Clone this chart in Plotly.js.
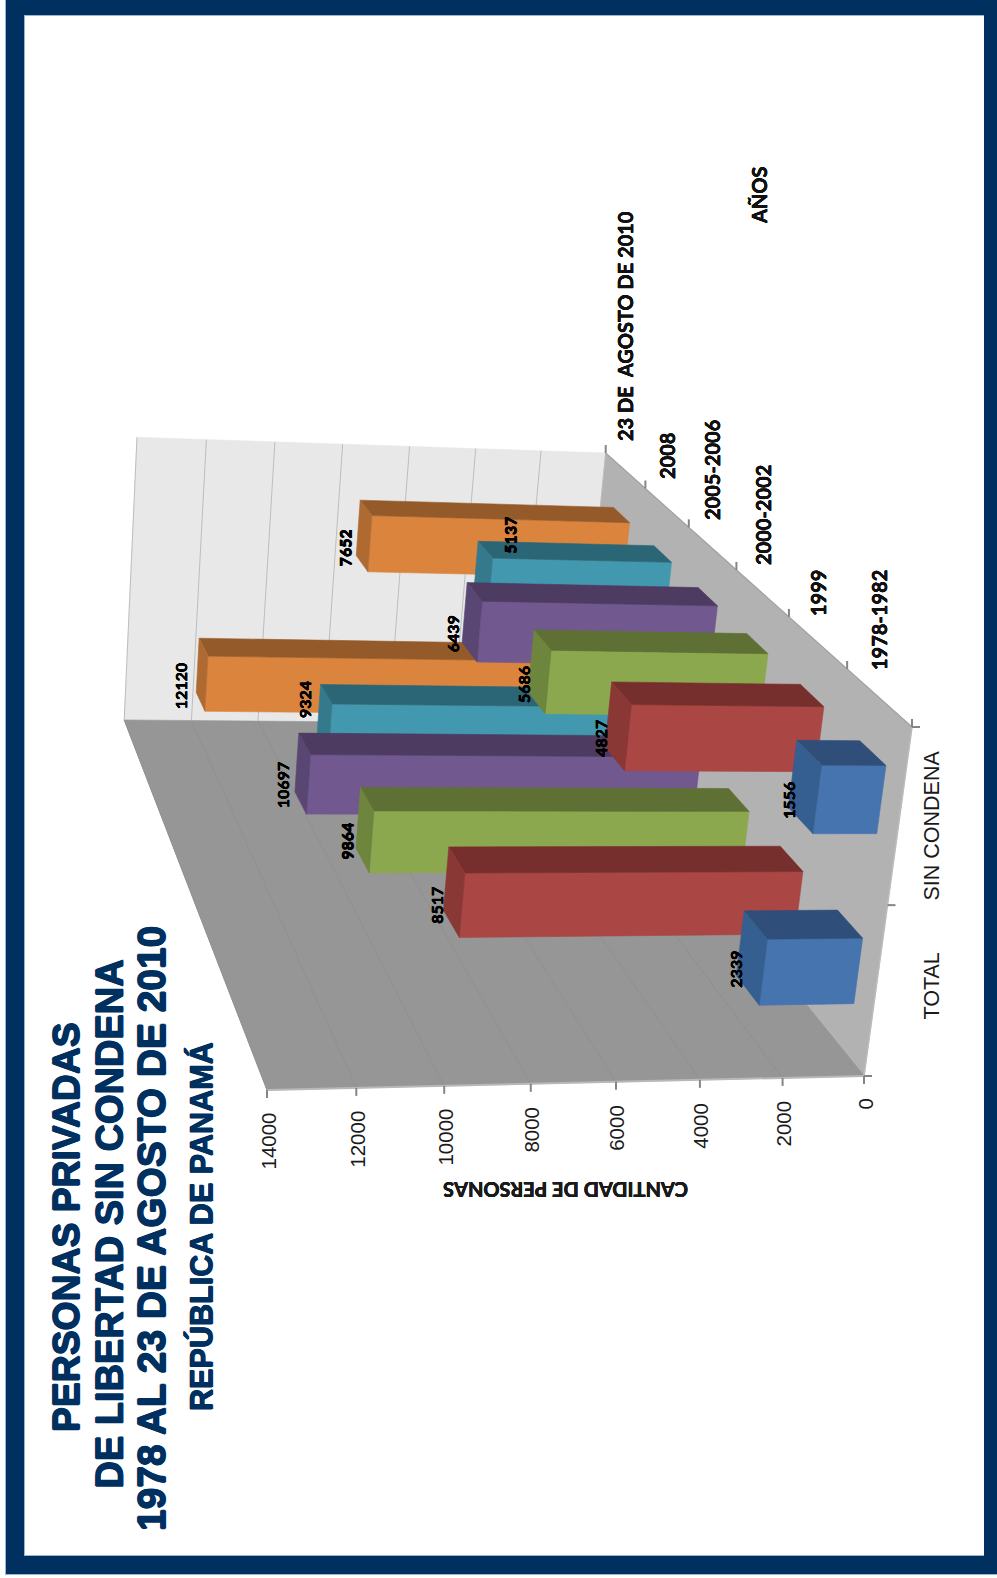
<!DOCTYPE html>
<html>
<head>
<meta charset="utf-8">
<script src="https://cdn.plot.ly/plotly-3.0.1.min.js"></script>
<style>html,body{margin:0;padding:0;background:#fff}#chart{width:997px;height:1578px}</style>
</head>
<body>
<div id="chart"></div>
<script>
// Data: people held without conviction, by period and by group
const periods = ['1978-1982', '1999', '2000-2002', '2005-2006', '2008', '23 DE  AGOSTO DE 2010'];
const groups = ['TOTAL', 'SIN CONDENA'];
const totalValues = [2339, 8517, 9864, 10697, 9324, 12120];
const sinCondenaValues = [1556, 4827, 5686, 6439, 5137, 7652];
const valueTicks = [0, 2000, 4000, 6000, 8000, 10000, 12000, 14000];
const valueMax = 14000;

// Face colours per period: front, side, cap
const faceColors = [
  ['#4674AE', '#2F4F7A', '#365F91'],
  ['#AA4643', '#772F2D', '#893836'],
  ['#8CA84F', '#5F7035', '#6E853D'],
  ['#71588F', '#4D3B61', '#5A4672'],
  ['#4198AF', '#2B6677', '#357A8C'],
  ['#DB843D', '#955A2A', '#AF6A31']
];

// Perspective camera of the box: u = group axis, v = period axis, w = value / max.
// Built from the pixel positions of the box corners on the rotated page.
const cornerA = [864, 1076], cornerB = [912, 727], cornerC = [605.7, 453], cornerD = [579, 724], cornerTop = [267, 1090];
const scaleTop = 0.9475;
function buildCamera() {
  const c1 = [cornerB[0] - cornerC[0], cornerD[0] - cornerC[0], cornerA[0] - cornerC[0]];
  const c2 = [cornerB[1] - cornerC[1], cornerD[1] - cornerC[1], cornerA[1] - cornerC[1]];
  const det = c1[0] * c2[1] - c1[1] * c2[0];
  const a = (c1[2] * c2[1] - c1[1] * c2[2]) / det;
  const b = (c1[0] * c2[2] - c1[2] * c2[0]) / det;
  const A = [cornerA[0], cornerA[1], 1], B = [cornerB[0], cornerB[1], 1], D = [cornerD[0], cornerD[1], 1], T = [cornerTop[0], cornerTop[1], 1];
  return {
    pu: B.map((p, i) => a * p - A[i]),
    pv: D.map((p, i) => b * p - A[i]),
    pw: T.map((p, i) => scaleTop * p - A[i]),
    p0: A
  };
}
const cam = buildCamera();
function project(u, v, value) {
  const w = value / valueMax;
  const h = [0, 1, 2].map(i => cam.p0[i] + u * cam.pu[i] + v * cam.pv[i] + w * cam.pw[i]);
  return [h[0] / h[2], h[1] / h[2]];
}

const traces = [];
function face(points, color, lineWidth) {
  const xy = points.map(p => project(p[0], p[1], p[2]));
  xy.push(xy[0]);
  traces.push({
    type: 'scatter', mode: 'lines', fill: 'toself', fillcolor: color,
    x: xy.map(p => p[0]), y: xy.map(p => p[1]),
    line: {color: color, width: lineWidth === undefined ? 0.6 : lineWidth},
    hoverinfo: 'skip', showlegend: false
  });
}
function segment(p, q, color, width) {
  const a = project(p[0], p[1], p[2]), b = project(q[0], q[1], q[2]);
  traces.push({
    type: 'scatter', mode: 'lines', x: [a[0], b[0]], y: [a[1], b[1]],
    line: {color: color, width: width}, hoverinfo: 'skip', showlegend: false
  });
}

// Box: back wall, side wall, floor
face([[0, 1, 0], [1, 1, 0], [1, 1, valueMax], [0, 1, valueMax]], '#E8E8E8');
face([[0, 0, 0], [0, 1, 0], [0, 1, valueMax], [0, 0, valueMax]], '#969696');
face([[0, 0, 0], [1, 0, 0], [1, 1, 0], [0, 1, 0]], '#B2B2B2');

// Gridlines on both walls
valueTicks.forEach(t => {
  segment([0, 1, t], [1, 1, t], '#BDBDBD', 1);
  segment([0, 0, t], [0, 1, t], '#909090', 1);
});

// Axis edges of the box
segment([0, 0, 0], [0, 0, valueMax], '#B8B8B8', 2);
segment([0, 0, 0], [1, 0, 0], '#BCBCBC', 1.5);
segment([1, 0, 0], [1, 1, 0], '#A2A2A2', 1.2);

// Bars, painted from the back row forward
const barHalfU = 0.097, barV0 = -0.0375, barV1 = 0.0305;
const groupCenters = [0.251, 0.7485];
const groupValues = [totalValues, sinCondenaValues];
for (let k = periods.length - 1; k >= 0; k--) {
  const vc = (k + 0.5) / periods.length;
  groups.forEach((g, gi) => {
    const val = groupValues[gi][k], uc = groupCenters[gi];
    const u0 = uc - barHalfU, u1 = uc + barHalfU, v0 = vc + barV0, v1 = vc + barV1;
    const [front, side, cap] = faceColors[k];
    face([[u0, v0, 0], [u1, v0, 0], [u1, v0, val], [u0, v0, val]], front);
    face([[u1, v0, 0], [u1, v1, 0], [u1, v1, val], [u1, v0, val]], side);
    face([[u0, v0, val], [u1, v0, val], [u1, v1, val], [u0, v1, val]], cap);
  });
}

// Axis ticks
const tickGrey = '#858585';
function tickFrom(p, dx, dy) {
  traces.push({
    type: 'scatter', mode: 'lines', x: [p[0], p[0] + dx], y: [p[1], p[1] + dy],
    line: {color: tickGrey, width: 2}, hoverinfo: 'skip', showlegend: false
  });
}
valueTicks.forEach(t => tickFrom(project(0, 0, t), 0, 8));
for (let i = 0; i <= groups.length; i++) tickFrom(project(i / groups.length, 0, 0), 8, 0);
for (let i = 0; i <= periods.length; i++) tickFrom(project(1, i / periods.length, 0), 0, -8);

// Text
const annotations = [];
function thicken(color, r) {
  return `${r}px 0 0 ${color}, -${r}px 0 0 ${color}, 0 ${r}px 0 ${color}, 0 -${r}px 0 ${color}`;
}
function label(text, x, y, size, family, bold, color, angle, extra, weightPx) {
  const font = {family: family, size: size, color: color};
  if (weightPx) font.shadow = thicken(color, weightPx);
  annotations.push(Object.assign({
    text: bold ? '<b>' + text + '</b>' : text, x: x, y: y, xref: 'x', yref: 'y',
    showarrow: false, textangle: angle === undefined ? -90 : angle,
    font: font,
    xanchor: 'center', yanchor: 'middle'
  }, extra || {}));
}
const sans = '"Liberation Sans", Arial, sans-serif';
const humanist = 'Lato, sans-serif';
const navy = '#003060';

// Value labels next to each bar cap; the period rows carry their own small offsets
const labelOffsets = [
  [[-15, 13], [-17, 15], [-17, 13], [-20, 13], [-19, -22], [-21, 13]],
  [[-15, 15], [-16, 14], [-15, 14], [-19, 13], [28, -42], [-18, 13]]
];
groups.forEach((g, gi) => {
  groupValues[gi].forEach((val, k) => {
    const vc = (k + 0.5) / periods.length;
    const p = project(groupCenters[gi], vc, val);
    const off = labelOffsets[gi][k];
    label(String(val), p[0] + off[0], p[1] + off[1], 16, humanist, true, '#000000', -90, null, 0.12);
  });
});

// Value axis tick labels, top-aligned under each tick
valueTicks.forEach(t => {
  const p = project(0, 0, t);
  label(String(t), p[0] + 1, p[1] + 21, 20.5, sans, false, '#1a1a1a', -90, {yanchor: 'top'});
});
label('CANTIDAD DE PERSONAS', 566, 1190, 20, humanist, true, '#1a1a1a', 180, null, 0.15);

// Group labels
label(groups[1], 931.5, 826, 21.5, sans, false, '#1a1a1a');
label(groups[0], 931.5, 986, 21.5, sans, false, '#1a1a1a');

// Period labels
const periodLabelPos = [[879, 620], [818, 593], [763, 515], [712, 470], [667, 456], [625, 326]];
periods.forEach((p, k) => label(p, periodLabelPos[k][0], periodLabelPos[k][1], 20, humanist, true, '#111111', -90, null, 0.15));
label('AÑOS', 759, 196, 20, humanist, true, '#111111', -90, null, 0.15);

// Heading
label('PERSONAS PRIVADAS', 66, 1227, 37.3, sans, true, navy, -90, null, 0.7);
label('DE LIBERTAD SIN CONDENA', 109.5, 1224, 38, sans, true, navy, -90, null, 0.7);
label('1978 AL 23 DE AGOSTO DE 2010', 151, 1229, 38.9, sans, true, navy, -90, null, 0.7);
label('REPÚBLICA DE PANAMÁ', 200, 1227, 30.6, sans, true, navy, -90, null, 0.5);

// Page frame: navy band with a pale inner and outer hairline
function band(x0, y0, x1, y1, color) {
  return {type: 'rect', xref: 'x', yref: 'y', x0, y0, x1, y1, fillcolor: color, line: {width: 0}, layer: 'below'};
}
const hairline = '#9DB4CA';
const shapes = [
  band(5, 0, 6, 1575, hairline),
  band(6, 1574, 997, 1575, hairline),
  band(24, 15, 984, 16, hairline),
  band(24, 15, 25, 1556, hairline),
  band(24, 1555, 984, 1556, hairline),
  band(6, 0, 24, 1574, navy),
  band(6, 0, 997, 15, navy),
  band(984, 0, 997, 1574, navy),
  band(6, 1556, 997, 1574, navy)
];

Plotly.newPlot('chart', traces, {
  width: 997, height: 1578,
  margin: {l: 0, r: 0, t: 0, b: 0},
  paper_bgcolor: '#FFFFFF', plot_bgcolor: '#FFFFFF',
  xaxis: {range: [0, 997], visible: false, fixedrange: true},
  yaxis: {range: [1578, 0], visible: false, fixedrange: true},
  shapes: shapes, annotations: annotations, showlegend: false
}, {displayModeBar: false, staticPlot: true});
</script>
</body>
</html>
